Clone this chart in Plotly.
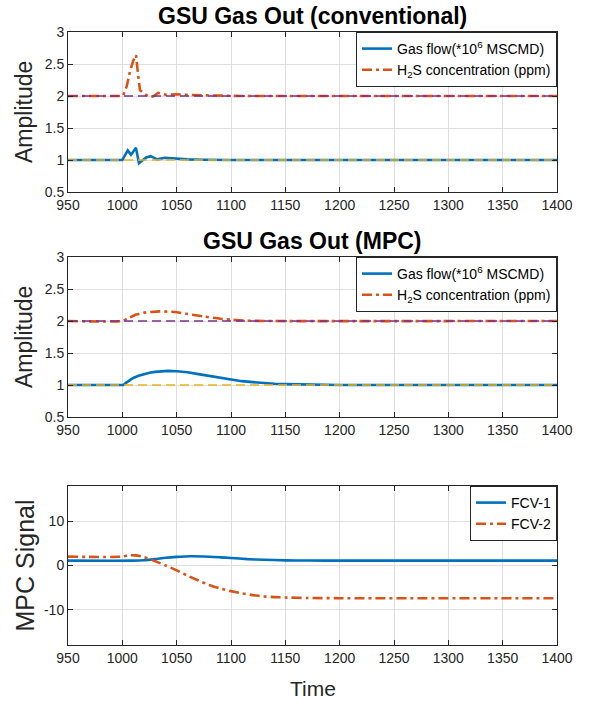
import plotly.graph_objects as go

# ---------------- data ----------------
conv_flow_t = [950, 1000, 1002, 1005, 1008, 1012.5, 1015.3, 1019.3, 1022, 1026, 1032, 1039, 1049, 1060, 1075, 1100, 1400]
conv_flow_v = [1.0, 1.0, 1.06, 1.15, 1.08, 1.19, 0.95, 1.01, 1.04, 1.06, 1.01, 1.035, 1.02, 1.01, 1.005, 1.0, 1.0]

conv_h2s_t = [950, 1000.5, 1004, 1007, 1010, 1012.6, 1014.7, 1016.3, 1020.8, 1025.4, 1029, 1033, 1040, 1050, 1065, 1085, 1110, 1400]
conv_h2s_v = [2.0, 2.0, 2.15, 2.38, 2.55, 2.64, 2.30, 2.09, 2.03, 1.98, 2.0, 2.05, 2.02, 2.025, 2.015, 2.01, 2.0, 2.0]

mpc_flow_t = [950, 1001, 1003, 1006, 1010, 1015, 1020, 1025, 1030, 1036, 1042, 1050, 1060, 1070, 1080, 1090, 1100, 1110, 1120, 1130, 1140, 1150, 1165, 1180, 1200, 1400]
mpc_flow_v = [1.0, 1.0, 1.03, 1.07, 1.11, 1.145, 1.17, 1.19, 1.205, 1.215, 1.22, 1.215, 1.2, 1.17, 1.14, 1.11, 1.08, 1.06, 1.045, 1.03, 1.02, 1.014, 1.008, 1.003, 1.0, 1.0]

mpc_h2s_t = [950, 1000, 1005, 1013, 1022, 1035, 1048, 1060, 1075, 1090, 1100, 1115, 1130, 1400]
mpc_h2s_v = [2.0, 2.0, 2.04, 2.10, 2.135, 2.15, 2.14, 2.11, 2.07, 2.035, 2.02, 2.005, 2.0, 2.0]

ref_t = [950, 1400]
ref_flow = [1.0, 1.0]
ref_h2s = [2.0, 2.0]

fcv1_t = [950, 1010, 1020, 1030, 1040, 1050, 1063, 1075, 1090, 1100, 1115, 1130, 1150, 1170, 1200, 1400]
fcv1_v = [1.1, 1.1, 1.2, 1.45, 1.75, 1.95, 2.1, 2.05, 1.85, 1.7, 1.45, 1.3, 1.17, 1.12, 1.1, 1.1]

fcv2_t = [950, 1000, 1005, 1012, 1020, 1028, 1040, 1050, 1060, 1070, 1080, 1090, 1100, 1110, 1120, 1130, 1140, 1150, 1170, 1200, 1400]
fcv2_v = [2.0, 2.0, 2.3, 2.3, 1.9, 1.2, 0.0, -1.1, -2.3, -3.4, -4.4, -5.2, -5.8, -6.3, -6.7, -7.0, -7.15, -7.25, -7.35, -7.4, -7.4]

x_ticks = [950, 1000, 1050, 1100, 1150, 1200, 1250, 1300, 1350, 1400]
amp_ticks = [0.5, 1, 1.5, 2, 2.5, 3]
amp_text = ["0.5", "1", "1.5", "2", "2.5", "3"]
mpc_ticks = [-10, 0, 10]

titles = ["GSU Gas Out (conventional)", "GSU Gas Out (MPC)"]
name_flow = "Gas flow(*10<sup>6</sup> MSCMD)"
name_h2s = "H<sub>2</sub>S concentration (ppm)"

# ---------------- style ----------------
W, H = 594, 702
BLUE, ORANGE, YELLOW, PURPLE = "#0072BD", "#D95319", "#EDB120", "#7E2F8E"
AX = "#262626"
GRID = "#dfdfdf"
FONT = "Liberation Sans, Arial, Helvetica, sans-serif"
DASHDOT = "10px,4px,3px,4px"
REFDASH = "9px,5px"

xl, xr = 68, 557
panels = [(32, 192), (257, 417), (486, 645)]  # top,bottom pixel rows

def ydom(top, bot):
    return [1 - bot / H, 1 - top / H]

fig = go.Figure()

def add_line(t, v, color, width, dash, ax, name=None, legend=None, show=False, shape="linear"):
    fig.add_trace(go.Scatter(
        x=t, y=v, mode="lines", name=name,
        line=dict(color=color, width=width, dash=dash, shape=shape, smoothing=0.6),
        xaxis="x" + ax, yaxis="y" + ax, showlegend=show,
        legend=legend, hoverinfo="skip"))

# panel 1
add_line(conv_flow_t, conv_flow_v, BLUE, 2.6, "solid", "", name_flow, "legend", True)
add_line(conv_h2s_t, conv_h2s_v, ORANGE, 2.6, DASHDOT, "", name_h2s, "legend", True)
add_line(ref_t, ref_flow, YELLOW, 1.3, REFDASH, "")
add_line(ref_t, ref_h2s, PURPLE, 1.3, REFDASH, "")
# panel 2
add_line(mpc_flow_t, mpc_flow_v, BLUE, 2.6, "solid", "2", name_flow, "legend2", True)
add_line(mpc_h2s_t, mpc_h2s_v, ORANGE, 2.6, DASHDOT, "2", name_h2s, "legend2", True, "spline")
add_line(ref_t, ref_flow, YELLOW, 1.3, REFDASH, "2")
add_line(ref_t, ref_h2s, PURPLE, 1.3, REFDASH, "2")
# panel 3
add_line(fcv1_t, fcv1_v, BLUE, 2.6, "solid", "3", "FCV-1", "legend3", True, "spline")
add_line(fcv2_t, fcv2_v, ORANGE, 2.6, DASHDOT, "3", "FCV-2", "legend3", True, "spline")

common_x = dict(range=[950, 1400], tickvals=x_ticks, ticktext=[str(v) for v in x_ticks],
                showgrid=True, gridcolor=GRID, gridwidth=1, zeroline=False,
                showline=True, linecolor=AX, linewidth=1, mirror="ticks",
                ticks="inside", ticklen=5, tickcolor=AX, automargin=False,
                tickfont=dict(family=FONT, size=14, color=AX),
                domain=[xl / W, xr / W])
common_y = dict(showgrid=True, gridcolor=GRID, gridwidth=1, zeroline=False,
                showline=True, linecolor=AX, linewidth=1, mirror="ticks",
                ticks="inside", ticklen=5, tickcolor=AX, automargin=False,
                tickfont=dict(family=FONT, size=14, color=AX))

fig.update_layout(
    template="none",
    width=W, height=H, margin=dict(l=0, r=0, t=0, b=0, pad=0, autoexpand=False),
    paper_bgcolor="white", plot_bgcolor="white",
    font=dict(family=FONT, color=AX),
    xaxis=dict(**common_x, anchor="y"),
    yaxis=dict(**common_y, range=[0.5, 3], tickvals=amp_ticks, ticktext=amp_text,
               domain=ydom(*panels[0]), anchor="x"),
    xaxis2=dict(**common_x, anchor="y2"),
    yaxis2=dict(**common_y, range=[0.5, 3], tickvals=amp_ticks, ticktext=amp_text,
                domain=ydom(*panels[1]), anchor="x2"),
    xaxis3=dict(**common_x, anchor="y3"),
    yaxis3=dict(**common_y, range=[-18, 18], tickvals=mpc_ticks,
                ticktext=[str(v) for v in mpc_ticks],
                domain=ydom(*panels[2]), anchor="x3"),
)

leg_common = dict(bgcolor="white", bordercolor=AX, borderwidth=1,
                  font=dict(family=FONT, size=14, color="black"),
                  xanchor="right", yanchor="top", tracegroupgap=0,
                  itemwidth=30)
fig.update_layout(
    legend=dict(**leg_common, x=xr / W, y=1 - panels[0][0] / H),
    legend2=dict(**leg_common, x=xr / W, y=1 - panels[1][0] / H),
    legend3=dict(**leg_common, x=xr / W, y=1 - panels[2][0] / H),
)

annos = []
for i, ttl in enumerate(titles):
    annos.append(dict(text="<b>" + ttl + "</b>", x=(xl + xr) / 2 / W, y=1 - (panels[i][0] - 16) / H,
                      xref="paper", yref="paper", showarrow=False,
                      font=dict(family=FONT, size=23, color="black"),
                      xanchor="center", yanchor="middle"))
for i, (lab, sz) in enumerate([("Amplitude", 23), ("Amplitude", 23), ("MPC Signal", 25)]):
    top, bot = panels[i]
    annos.append(dict(text=lab, x=24 / W, y=1 - (top + bot) / 2 / H,
                      xref="paper", yref="paper", showarrow=False, textangle=-90,
                      font=dict(family=FONT, size=sz, color=AX),
                      xanchor="center", yanchor="middle"))
annos.append(dict(text="Time", x=(xl + xr) / 2 / W, y=1 - 688 / H,
                  xref="paper", yref="paper", showarrow=False,
                  font=dict(family=FONT, size=21, color=AX),
                  xanchor="center", yanchor="middle"))
fig.update_layout(annotations=annos)

fig.write_html("out.html", config={"displayModeBar": False},
               post_script="document.body.style.margin='0';document.body.style.padding='0';")
